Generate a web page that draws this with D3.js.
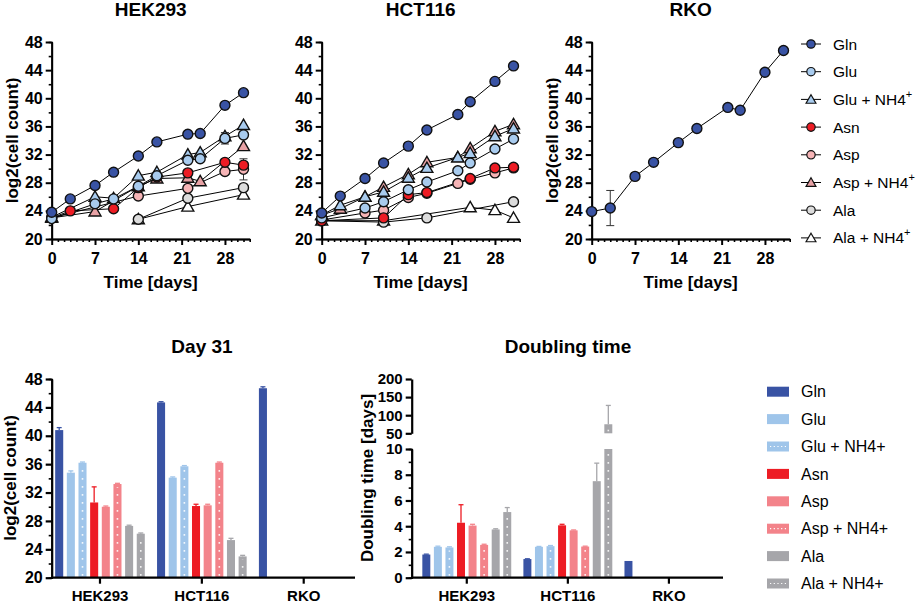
<!DOCTYPE html>
<html>
<head>
<meta charset="utf-8">
<script src="https://cdn.jsdelivr.net/npm/d3@7"></script>
<style>
  body { margin: 0; background: #fff; }
  text { font-family: "Liberation Sans", Arial, sans-serif; fill: #000; }
</style>
</head>
<body>
<div id="container"></div>
<script>
const WIDTH = 920;
const HEIGHT = 605;

// ---- data ----
const SERIES = ['Gln', 'Glu', 'Glu + NH4', 'Asn', 'Asp', 'Asp + NH4', 'Ala', 'Ala + NH4'];
const DAYS = [0, 3, 7, 10, 14, 17, 22, 24, 28, 31];

// log2(cell count) per series, one value per day (null = not measured)
const HEK293_VALUES = [
  [23.8, 25.7, 27.6, 29.5, 31.8, 33.8, 34.9, 35.0, 39.0, 40.8],
  [22.9, null, 25.0, 25.7, 27.5, 29.0, 31.2, 31.4, 34.3, 34.8],
  [23.1, null, 26.0, 25.8, 29.0, 29.5, 32.0, 32.3, 34.6, 36.2],
  [23.0, 24.0, null, 24.3, 27.3, 28.8, 29.4, null, 30.9, 30.5],
  [23.0, null, null, null, 26.1, null, 27.2, null, 29.6, 29.9],
  [23.0, null, 23.9, null, 27.5, 28.6, 28.7, 28.2, null, 33.2],
  [null, null, null, null, 22.8, null, 25.8, null, null, 27.3],
  [null, null, null, null, 22.8, null, 24.6, null, null, 26.3]
];
const HCT116_VALUES = [
  [23.7, 26.1, 28.6, 30.8, 33.2, 35.5, 37.7, 39.5, 42.4, 44.6],
  [23.0, null, 24.4, 25.3, 27.0, 28.1, 29.7, 30.8, 32.8, 34.2],
  [23.4, 24.8, 26.0, 26.7, 28.7, 30.1, 31.6, 32.2, 34.6, 35.7],
  [22.6, null, null, 23.0, 26.3, 26.6, null, 28.6, 30.1, 30.2],
  [22.7, null, 23.7, 24.1, 25.9, 26.5, 27.9, 28.5, 29.4, 30.1],
  [23.4, 24.3, 26.0, 27.4, 29.2, 30.9, 31.6, 32.9, 35.3, 36.3],
  [22.6, null, null, 22.4, null, 23.0, null, null, null, 25.3],
  [22.6, null, null, 22.6, null, null, null, 24.5, 24.1, 23.0]
];
const RKO_VALUES = [
  [23.9, 24.4, 28.9, 30.9, 33.7, 35.7, 38.7, 38.3, 43.7, 46.8]
];
const HEK293_ERRORS = [
  { series: 'Glu', day: 28, err: 0.8 },
  { series: 'Glu + NH4', day: 28, err: 0.5 },
  { series: 'Asp', day: 31, err: 1.5 }
];
const HCT116_ERRORS = [];
const RKO_ERRORS = [{ series: 'Gln', day: 3, err: 2.5 }];

const CELL_LINES = ['HEK293', 'HCT116', 'RKO'];
const DAY31_HEK293 = [40.8, 34.8, 36.2, 30.6, 30.0, 33.2, 27.3, 26.2];
const DAY31_HCT116 = [44.7, 34.1, 35.7, 30.1, 30.2, 36.2, 25.3, 23.0];
const DAY31_RKO = [46.7];
const DAY31_ERR_HEK293 = [0.35, 0.25, 0.1, 2.2, 0.1, 0.1, 0.1, 0.1];
const DAY31_ERR_HCT116 = [0.1, 0.1, 0.1, 0.25, 0.15, 0.1, 0.25, 0.15];
const DAY31_ERR_RKO = [0.2];

const DOUBLING_HEK293 = [1.8, 2.4, 2.35, 4.27, 4.05, 2.55, 3.75, 5.1];
const DOUBLING_HCT116 = [1.45, 2.4, 2.45, 4.07, 3.68, 2.42, 7.5, 75];
const DOUBLING_RKO = [1.3];
const DOUBLING_ERR_HEK293 = [0.03, 0.05, 0.05, 1.4, 0.1, 0.05, 0.05, 0.35];
const DOUBLING_ERR_HCT116 = [0.02, 0.03, 0.05, 0.08, 0.03, 0.03, 1.4, 52];
const DOUBLING_ERR_RKO = [0];

// ticks
const LOG_TICKS = [20, 24, 28, 32, 36, 40, 44, 48];
const LOG_MINOR = [22, 26, 30, 34, 38, 42, 46];
const DAY_TICKS = [0, 7, 14, 21, 28];
const DT_LOW_TICKS = [0, 2, 4, 6, 8, 10];
const DT_LOW_MINOR = [1, 3, 5, 7, 9];
const DT_HIGH_TICKS = [50, 100, 150, 200];

// ---- styles ----
const MARKERS = [
  { shape: 'circle', fill: '#3953a4' },
  { shape: 'circle', fill: '#a8cbee' },
  { shape: 'triangle', fill: '#a8cbee' },
  { shape: 'circle', fill: '#ed1c24' },
  { shape: 'circle', fill: '#f6b4b6' },
  { shape: 'triangle', fill: '#e8a2a5' },
  { shape: 'circle', fill: '#dcdcdc' },
  { shape: 'triangle', fill: '#ffffff' }
];
const BAR_COLORS = ['#3953a4', '#9fc5ea', '#9fc5ea', '#ed1c24', '#f3838a', '#f3838a', '#a6a6aa', '#a6a6aa'];
const BAR_DOTTED = [false, false, true, false, false, true, false, true];

const svg = d3.select('#container')
              .append('svg')
                .attr('width', WIDTH)
                .attr('height', HEIGHT);

const styleAxis = (g, w, fs) => {
  g.select('.domain').attr('stroke', '#000').attr('stroke-width', w);
  g.selectAll('.tick line').attr('stroke', '#000').attr('stroke-width', w);
  g.selectAll('.tick text')
    .style('font-size', fs + 'px')
    .style('font-weight', 'bold')
    .attr('fill', '#000');
};

// ---- growth curves ----
const TOP = 42, BOTTOM = 239;
const ylog = d3.scaleLinear().domain([20, 48]).range([BOTTOM, TOP]);

const linePanel = (x0, title, values, errors, withYLabel) => {
  const x = d3.scaleLinear().domain([0, 32]).range([x0, x0 + 198]);
  const g = svg.append('g');

  g.append('g').attr('transform', `translate(0,${BOTTOM})`)
    .call(d3.axisBottom(x).tickValues(d3.range(1, 33).filter(d => d % 7)).tickSize(3).tickSizeOuter(0).tickFormat(''))
    .call(a => styleAxis(a, 1.6, 16));
  g.append('g').attr('transform', `translate(0,${BOTTOM})`)
    .call(d3.axisBottom(x).tickValues(DAY_TICKS).tickSize(6).tickSizeOuter(0).tickPadding(8))
    .call(a => styleAxis(a, 2, 16));
  g.append('g').attr('transform', `translate(${x0},0)`)
    .call(d3.axisLeft(ylog).tickValues(LOG_MINOR).tickSize(3).tickFormat(''))
    .call(a => styleAxis(a, 1.6, 16));
  g.append('g').attr('transform', `translate(${x0},0)`)
    .call(d3.axisLeft(ylog).tickValues(LOG_TICKS).tickSize(6).tickSizeOuter(0).tickPadding(3))
    .call(a => styleAxis(a, 2, 16));

  g.append('text').attr('x', x0 + 99).attr('y', 16).attr('text-anchor', 'middle')
    .style('font-size', '19px').style('font-weight', 'bold').text(title);
  g.append('text').attr('x', x0 + 99).attr('y', 288).attr('text-anchor', 'middle')
    .style('font-size', '17px').style('font-weight', 'bold').text('Time [days]');
  if (withYLabel) {
    g.append('text')
      .attr('transform', `translate(${x0 - 34},${(TOP + BOTTOM) / 2}) rotate(-90)`)
      .attr('text-anchor', 'middle')
      .style('font-size', '17px').style('font-weight', 'bold').text('log2(cell count)');
  }

  const series = values.map((vals, i) => ({
    i,
    pts: DAYS.map((d, j) => ({ d, v: vals[j] })).filter(p => p.v !== null)
  }));

  const line = d3.line().x(p => x(p.d)).y(p => ylog(p.v));
  g.selectAll('path.series').data(series).enter().append('path')
    .attr('class', 'series')
    .attr('d', s => line(s.pts))
    .attr('fill', 'none').attr('stroke', '#000').attr('stroke-width', 1);

  errors.forEach(e => {
    const v = values[SERIES.indexOf(e.series)][DAYS.indexOf(e.day)];
    const cx = x(e.day);
    const eg = g.append('g').attr('stroke', '#333').attr('stroke-width', 1);
    eg.append('line').attr('x1', cx).attr('x2', cx).attr('y1', ylog(v - e.err)).attr('y2', ylog(v + e.err));
    [v - e.err, v + e.err].forEach(t =>
      eg.append('line').attr('x1', cx - 4).attr('x2', cx + 4).attr('y1', ylog(t)).attr('y2', ylog(t)));
  });

  series.slice().reverse().forEach(s => {
    const m = MARKERS[s.i];
    const sym = d3.symbol().type(m.shape === 'circle' ? d3.symbolCircle : d3.symbolTriangle)
                           .size(m.shape === 'circle' ? 78 : 62);
    g.selectAll(null).data(s.pts).enter().append('path')
      .attr('d', sym)
      .attr('transform', p => `translate(${x(p.d)},${ylog(p.v) + (m.shape === 'triangle' ? 1 : 0)})`)
      .attr('fill', m.fill).attr('stroke', '#111').attr('stroke-width', 1.4);
  });
};

linePanel(51.7, 'HEK293', HEK293_VALUES, HEK293_ERRORS, true);
linePanel(321.7, 'HCT116', HCT116_VALUES, HCT116_ERRORS, false);
linePanel(591.7, 'RKO', RKO_VALUES, RKO_ERRORS, true);

// top legend
const topLegend = svg.append('g');
SERIES.forEach((name, i) => {
  const yy = 44 + i * 27.7;
  const m = MARKERS[i];
  topLegend.append('line').attr('x1', 801).attr('x2', 821).attr('y1', yy).attr('y2', yy)
    .attr('stroke', '#000').attr('stroke-width', 1);
  const sym = d3.symbol().type(m.shape === 'circle' ? d3.symbolCircle : d3.symbolTriangle)
                         .size(m.shape === 'circle' ? 55 : 42);
  topLegend.append('path').attr('d', sym).attr('transform', `translate(811,${yy + (m.shape === 'triangle' ? 1 : 0)})`)
    .attr('fill', m.fill).attr('stroke', '#111').attr('stroke-width', 1.2);
  const t = topLegend.append('text').attr('x', 833).attr('y', yy).attr('dy', '0.36em')
    .style('font-size', '15.5px');
  if (name.endsWith('NH4')) {
    t.append('tspan').text(name);
    t.append('tspan').attr('dy', -7).style('font-size', '11px').text('+');
  } else {
    t.text(name);
  }
});

// ---- bar charts ----
const BAR_BOTTOM = 577.7;
const inner = d3.scaleBand().domain(SERIES).paddingInner(0.31).paddingOuter(0.15);

const drawBars = (g, xg, groups, yFor, baseY) => {
  inner.range([0, xg.bandwidth()]);
  groups.forEach(grp => {
    grp.vals.forEach((v, i) => {
      const bx = xg(grp.name) + inner(SERIES[i]);
      const bw = inner.bandwidth();
      const cx = bx + bw / 2;
      const col = BAR_COLORS[i];
      const parts = yFor(v);
      parts.forEach(p => {
        g.append('rect').attr('x', bx).attr('width', bw)
          .attr('y', p.top).attr('height', p.bottom - p.top).attr('fill', col);
        if (BAR_DOTTED[i]) {
          g.append('line').attr('x1', cx).attr('x2', cx)
            .attr('y1', p.bottom - 2).attr('y2', p.top + 3)
            .attr('stroke', '#fff').attr('stroke-opacity', 0.85)
            .attr('stroke-width', 1.6).attr('stroke-dasharray', '1.6,6.4');
        }
      });
      const e = grp.errs[i];
      if (e > 0) {
        const top = parts[parts.length - 1].top;
        const ey = yFor(v + e);
        const et = ey[ey.length - 1].top;
        g.append('line').attr('x1', cx).attr('x2', cx).attr('y1', top).attr('y2', et)
          .attr('stroke', col).attr('stroke-width', 1.3);
        g.append('line').attr('x1', cx - 2.5).attr('x2', cx + 2.5).attr('y1', et).attr('y2', et)
          .attr('stroke', col).attr('stroke-width', 1.3);
      }
    });
  });
};

const groupAxis = (g, xg, x1) => {
  g.append('line').attr('x1', xg.range()[0]).attr('x2', x1).attr('y1', BAR_BOTTOM).attr('y2', BAR_BOTTOM)
    .attr('stroke', '#000').attr('stroke-width', 2.2);
  g.append('g').attr('transform', `translate(0,${BAR_BOTTOM})`)
    .call(d3.axisBottom(xg).tickSize(6).tickSizeOuter(0).tickPadding(7))
    .call(a => a.select('.domain').remove())
    .call(a => styleAxis(a, 2.2, 15));
};

// Day 31
const ybar = d3.scaleLinear().domain([20, 48]).range([BAR_BOTTOM, 379]);
const x31 = d3.scaleBand().domain(CELL_LINES).range([51.7, 352]).paddingInner(0.086).paddingOuter(0.017);
const g31 = svg.append('g');
drawBars(g31, x31, [
  { name: 'HEK293', vals: DAY31_HEK293, errs: DAY31_ERR_HEK293 },
  { name: 'HCT116', vals: DAY31_HCT116, errs: DAY31_ERR_HCT116 },
  { name: 'RKO', vals: DAY31_RKO, errs: DAY31_ERR_RKO }
], v => [{ top: ybar(v), bottom: ybar(20) }]);
groupAxis(g31, x31, 355);
g31.append('g').attr('transform', 'translate(51.7,0)')
  .call(d3.axisLeft(ybar).tickValues(LOG_MINOR).tickSize(3).tickFormat(''))
  .call(a => styleAxis(a, 1.6, 16));
g31.append('g').attr('transform', 'translate(51.7,0)')
  .call(d3.axisLeft(ybar).tickValues(LOG_TICKS).tickSize(6).tickSizeOuter(0).tickPadding(3))
  .call(a => styleAxis(a, 2.2, 16));
g31.append('text').attr('x', 202).attr('y', 353).attr('text-anchor', 'middle')
  .style('font-size', '19px').style('font-weight', 'bold').text('Day 31');
g31.append('text').attr('transform', 'translate(16,478) rotate(-90)').attr('text-anchor', 'middle')
  .style('font-size', '17px').style('font-weight', 'bold').text('log2(cell count)');

// Doubling time (broken axis)
const yLow = d3.scaleLinear().domain([0, 10]).range([BAR_BOTTOM, 449]);
const yHigh = d3.scaleLinear().domain([50, 200]).range([433.3, 379]);
const xdt = d3.scaleBand().domain(CELL_LINES).range([411.7, 724]).paddingInner(0.086).paddingOuter(0.088);
const gdt = svg.append('g');
drawBars(gdt, xdt, [
  { name: 'HEK293', vals: DOUBLING_HEK293, errs: DOUBLING_ERR_HEK293 },
  { name: 'HCT116', vals: DOUBLING_HCT116, errs: DOUBLING_ERR_HCT116 },
  { name: 'RKO', vals: DOUBLING_RKO, errs: DOUBLING_ERR_RKO }
], v => v <= 10
  ? [{ top: yLow(v), bottom: yLow(0) }]
  : [{ top: yLow(10), bottom: yLow(0) }, { top: yHigh(v), bottom: yHigh(50) }]);
groupAxis(gdt, xdt, 723);
gdt.append('g').attr('transform', 'translate(411.7,0)')
  .call(d3.axisLeft(yLow).tickValues(DT_LOW_MINOR).tickSize(3).tickFormat(''))
  .call(a => styleAxis(a, 1.6, 15));
gdt.append('g').attr('transform', 'translate(411.7,0)')
  .call(d3.axisLeft(yLow).tickValues(DT_LOW_TICKS).tickSize(6).tickSizeOuter(0).tickPadding(3))
  .call(a => styleAxis(a, 2.2, 15));
gdt.append('g').attr('transform', 'translate(411.7,0)')
  .call(d3.axisLeft(yHigh).tickValues(DT_HIGH_TICKS).tickSize(6).tickSizeOuter(0).tickPadding(3))
  .call(a => styleAxis(a, 2.2, 15));
gdt.append('text').attr('x', 568).attr('y', 353).attr('text-anchor', 'middle')
  .style('font-size', '19px').style('font-weight', 'bold').text('Doubling time');
gdt.append('text').attr('transform', 'translate(373,478) rotate(-90)').attr('text-anchor', 'middle')
  .style('font-size', '17px').style('font-weight', 'bold').text('Doubling time [days]');

// bar legend
const barLegend = svg.append('g');
SERIES.forEach((name, i) => {
  const yy = 391.7 + i * 27.4;
  barLegend.append('rect').attr('x', 767).attr('y', yy - 5).attr('width', 22).attr('height', 10)
    .attr('fill', BAR_COLORS[i]);
  if (BAR_DOTTED[i]) {
    barLegend.append('line').attr('x1', 770).attr('x2', 787).attr('y1', yy).attr('y2', yy)
      .attr('stroke', '#fff').attr('stroke-width', 1.2).attr('stroke-dasharray', '1.2,2.5');
  }
  barLegend.append('text').attr('x', 801).attr('y', yy).attr('dy', '0.36em')
    .style('font-size', '16px').text(name.endsWith('NH4') ? name + '+' : name);
});
</script>
</body>
</html>
